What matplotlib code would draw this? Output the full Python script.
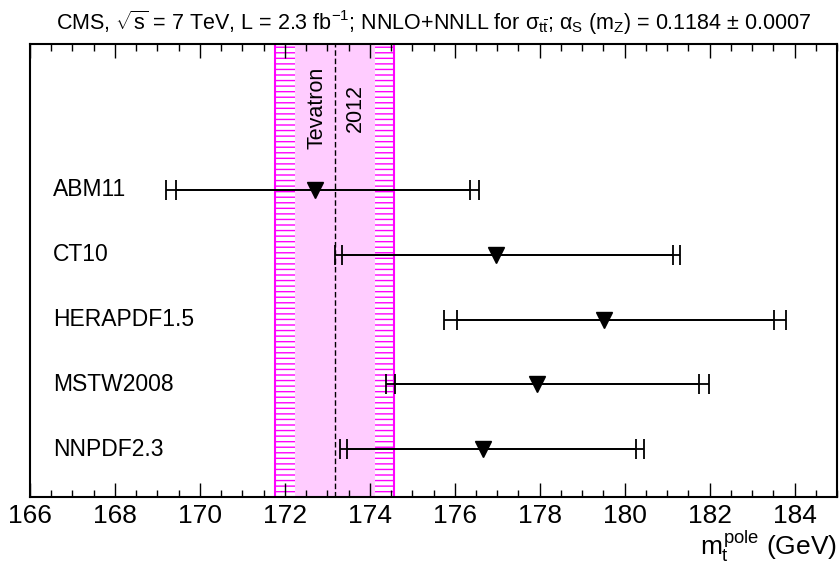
import matplotlib
matplotlib.use("Agg")
import matplotlib.pyplot as plt
import numpy as np

plt.rcParams["font.family"] = ["Liberation Sans", "DejaVu Sans"]
plt.rcParams["mathtext.fontset"] = "custom"
plt.rcParams["mathtext.rm"] = "Liberation Sans"
plt.rcParams["mathtext.it"] = "Liberation Sans"
plt.rcParams["mathtext.bf"] = "Liberation Sans:bold"
plt.rcParams["hatch.linewidth"] = 1.0

# extracted m_t^pole per PDF set, with inner and total uncertainties (GeV)
pdfs = ["ABM11", "CT10", "HERAPDF1.5", "MSTW2008", "NNPDF2.3"]
mt = [172.72, 176.98, 179.51, 177.94, 176.67]
err_in_lo = [3.29, 3.63, 3.46, 3.34, 3.20]
err_in_hi = [3.63, 4.15, 4.00, 3.81, 3.60]
err_tot_lo = [3.52, 3.80, 3.77, 3.56, 3.38]
err_tot_hi = [3.84, 4.32, 4.29, 4.04, 3.78]

# Tevatron 2012 combination band
tev_mt = 173.18
tev_err = 0.94
tev_err_outer = 1.40

ypos = np.arange(len(pdfs), 0, -1)

fig = plt.figure(figsize=(8.39, 5.65), dpi=100)
ax = fig.add_axes([30/839, 1-497.3/565, 807/839, (497.3-44)/565])

ax.axvspan(tev_mt - tev_err_outer, tev_mt + tev_err_outer, facecolor="white",
           edgecolor="#ff00ff", hatch="---", lw=1.5, zorder=1)
ax.axvspan(tev_mt - tev_err, tev_mt + tev_err, facecolor="#ffccff",
           edgecolor="none", zorder=1.1)
ax.axvline(tev_mt, color="black", lw=1.0, ls=(0, (4, 2)), zorder=1.2)
ax.text(172.75, 6.26, "Tevatron", rotation=90, ha="center", va="center", fontsize=15.5)
ax.text(173.66, 6.26, "2012", rotation=90, ha="center", va="center", fontsize=15.5)

ax.errorbar(mt, ypos, xerr=[err_tot_lo, err_tot_hi], fmt="none", ecolor="black",
            elinewidth=1.3, capsize=7.2, capthick=1.3, zorder=3)
ax.errorbar(mt, ypos, xerr=[err_in_lo, err_in_hi], fmt="none", ecolor="black",
            elinewidth=1.3, capsize=7.2, capthick=1.3, zorder=3)
ax.plot(mt, ypos, "v", color="black", ms=11, zorder=4)

for y, name in zip(ypos, pdfs):
    ax.text(0.0285, y, name, transform=ax.get_yaxis_transform(), ha="left",
            va="center", fontsize=16.5)

ax.set_xlim(166, 185)
ax.set_ylim(0.26, 7.25)
ax.set_yticks([])
ax.set_xticks(np.arange(166, 185, 2))
ax.set_xticks(np.arange(166, 185.01, 0.5), minor=True)
ax.tick_params(axis="x", which="both", direction="in", top=True, labelsize=19, pad=5)
ax.tick_params(axis="x", which="major", length=10, width=1.0)
ax.tick_params(axis="x", which="minor", length=5, width=1.0)
for s in ax.spines.values():
    s.set_linewidth(1.5)

ax.set_xlabel(r"$m_t^{pole}$ (GeV)", fontsize=19, loc="right", labelpad=0)
ax.set_title(r"CMS, $\sqrt{s}$ = 7 TeV, L = 2.3 fb$^{-1}$; NNLO+NNLL for $\sigma_{t\bar{t}}$; "
             r"$\alpha_S$ (m$_Z$) = 0.1184 ± 0.0007", fontsize=15.5, pad=10)

fig.savefig("out.png", dpi=100)
